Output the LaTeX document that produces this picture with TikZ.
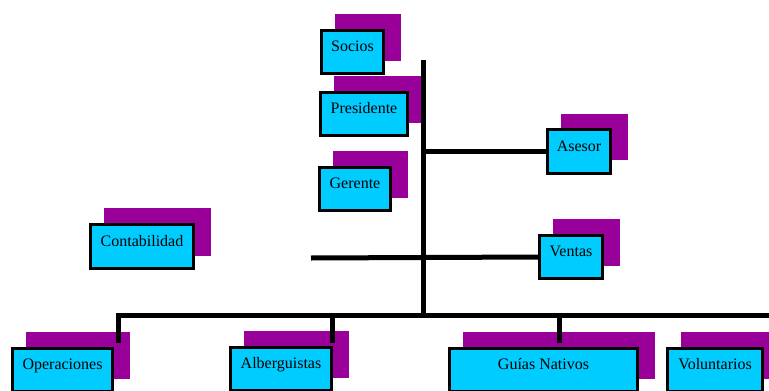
\documentclass[tikz,border=0pt]{standalone}
\usepackage{fontspec}
\setmainfont{Liberation Serif}
\usetikzlibrary{shadows}
\definecolor{boxcyan}{HTML}{00CCFF}
\definecolor{shadowpurple}{HTML}{990099}
\begin{document}
\begin{tikzpicture}[x=1pt,y=-1pt,
  orgbox/.style={draw=black, line width=2.6pt, fill=boxcyan, rectangle,
    minimum height=43.5pt, inner sep=0pt, text height=5pt, text depth=6pt,
    font=\fontsize{16}{19}\selectfont\rmfamily,
    drop shadow={shadow xshift=15.5pt, shadow yshift=14.5pt, fill=shadowpurple,
      draw=shadowpurple, line width=2.6pt, opacity=1}},
  conn/.style={line width=5pt, black}]
\useasboundingbox (0,0) rectangle (769,391);
% boxes
\node[orgbox, minimum width=62.5pt] (socios) at (352.5,52) {Socios};
\node[orgbox, minimum width=87.5pt] (pres) at (364,114) {Presidente};
\node[orgbox, minimum width=71.5pt] (ger) at (355,189) {Gerente};
\node[orgbox, minimum width=63.5pt] (ases) at (579,151.5) {Asesor};
\node[orgbox, minimum width=63.5pt] (vent) at (571,257) {Ventas};
\node[orgbox, minimum width=103.5pt, minimum height=44.5pt] (cont) at (142,246.5) {Contabilidad};
\node[orgbox, minimum width=100.5pt] (oper) at (62.5,370) {Operaciones};
\node[orgbox, minimum width=101.5pt] (alb) at (281,369) {Alberguistas};
\node[orgbox, minimum width=188.5pt] (guias) at (543.5,370) {Guías Nativos};
\node[orgbox, minimum width=95.5pt] (vol) at (715,370) {Voluntarios};
% connector coordinates
\coordinate (top) at (423,60);
\coordinate (busmid) at (423,315);
\coordinate (ventL) at (311,258);
\coordinate (busR) at (775,315);
\coordinate (operT) at (118,343);
\coordinate (albB) at (332,315);
\coordinate (albT) at (332,343);
\coordinate (guiB) at (559,315);
\coordinate (guiT) at (559,343);
% connectors
\draw[conn] (top) -- (busmid);
\draw[conn] (top |- ases.west) -- (ases.west);
\draw[conn] (ventL) -- (vent.west);
\draw[conn] (operT) |- (busR);
\draw[conn] (albB) -- (albT);
\draw[conn] (guiB) -- (guiT);
\end{tikzpicture}
\end{document}
